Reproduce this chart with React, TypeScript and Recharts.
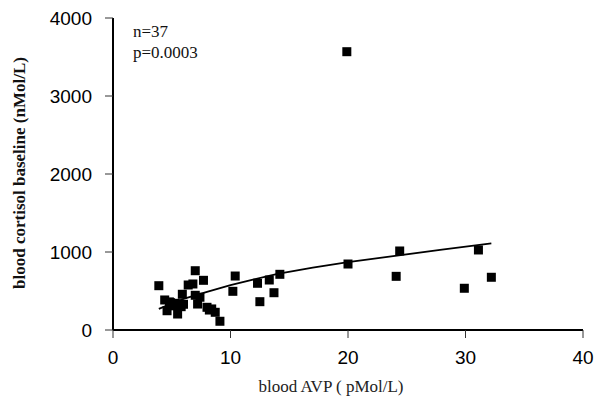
import React from 'react';
import { ScatterChart, Scatter, XAxis, YAxis } from 'recharts';

// blood AVP (pMol/L) vs blood cortisol baseline (nMol/L)
const avp = [
  3.9, 7.0, 7.7, 6.4, 6.8, 5.9, 7.0, 4.4, 4.9, 5.3, 5.8, 4.6, 5.5, 7.2, 8.0, 8.2,
  8.7, 9.1, 10.4, 10.2, 12.3, 12.5, 13.3, 13.7, 14.2, 20.0, 19.9, 24.4, 24.1, 31.1,
  29.9, 32.2, 6.0, 5.1, 7.4, 8.4, 4.8,
];
const cortisol = [
  568, 760, 637, 577, 590, 458, 445, 385, 350, 342, 299, 247, 205, 333, 291, 256,
  227, 112, 692, 496, 599, 363, 641, 478, 714, 846, 3568, 1013, 688, 1026,
  535, 676, 330, 310, 420, 270, 360,
];

// fitted curve
const fitX = [3.9, 6, 8, 10, 12, 14, 17, 20, 24, 28, 32.2];
const fitY = [270, 400, 490, 575, 650, 720, 800, 870, 950, 1030, 1110];

const xTicks = [0, 10, 20, 30, 40];
const yTicks = [0, 1000, 2000, 3000, 4000];

const points = avp.map((x, i) => ({ x, y: cortisol[i] }));
const fit = fitX.map((x, i) => ({ x, y: fitY[i] }));

const Square = (props: any) => {
  const { cx, cy } = props;
  return <rect x={cx - 4.5} y={cy - 4.5} width={9} height={9} fill="#000" />;
};

const tickStyle = { fontFamily: 'Liberation Sans, Arial, sans-serif', fontSize: 19, fill: '#000' };

export default function App() {
  return (
    <div style={{ position: 'absolute', left: 0, top: 0, width: 600, height: 401, background: '#fff' }}>
      <ScatterChart width={600} height={401} margin={{ top: 18, right: 17, left: 0, bottom: 0 }}>
        <XAxis
          type="number"
          dataKey="x"
          domain={[0, 40]}
          ticks={xTicks}
          height={71}
          tick={tickStyle}
          tickSize={8}
          tickMargin={13}
          axisLine={{ stroke: '#000', strokeWidth: 2 }}
          tickLine={{ stroke: '#333' }}
        />
        <YAxis
          type="number"
          dataKey="y"
          domain={[0, 4000]}
          ticks={yTicks}
          width={113}
          tick={tickStyle}
          tickSize={8}
          tickMargin={13}
          axisLine={{ stroke: '#000', strokeWidth: 2 }}
          tickLine={{ stroke: '#333' }}
        />
        <Scatter
          data={fit}
          shape={() => <g />}
          line={{ stroke: '#000', strokeWidth: 1.8 }}
          lineType="joint"
          isAnimationActive={false}
        />
        <Scatter data={points} shape={Square} isAnimationActive={false} />
      </ScatterChart>
      <div
        style={{
          position: 'absolute', left: 20, top: 173, transform: 'translate(-50%, -50%) rotate(-90deg)',
          whiteSpace: 'nowrap', fontFamily: 'Liberation Serif, Times New Roman, serif', fontWeight: 'bold',
          fontSize: 17, color: '#111',
        }}
      >
        blood cortisol baseline (nMol/L)
      </div>
      <div
        style={{
          position: 'absolute', left: 331, top: 387, transform: 'translate(-50%, -50%)',
          whiteSpace: 'nowrap', fontFamily: 'Liberation Serif, Times New Roman, serif', fontSize: 17, color: '#222',
        }}
      >
        blood AVP ( pMol/L)
      </div>
      <div
        style={{
          position: 'absolute', left: 133, top: 21, lineHeight: '21px',
          fontFamily: 'Liberation Serif, Times New Roman, serif', fontSize: 17, color: '#111',
        }}
      >
        <div>n=37</div>
        <div>p=0.0003</div>
      </div>
    </div>
  );
}
